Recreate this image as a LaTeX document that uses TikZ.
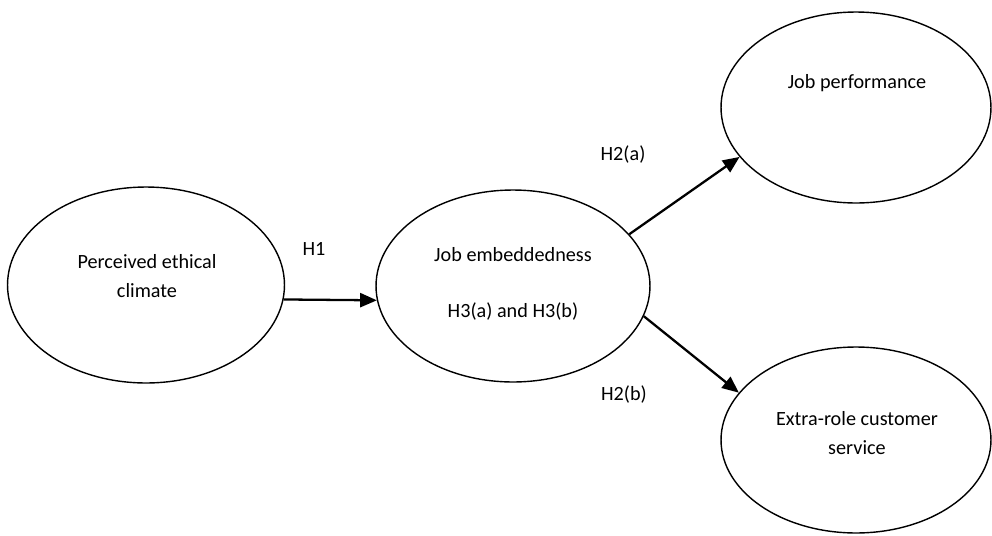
\documentclass[tikz,border=0pt]{standalone}
\usepackage{fontspec}
\setmainfont{Carlito}
\usepackage{tikz}
\usetikzlibrary{arrows.meta,shapes,positioning}
\tikzset{
	construct/.style={shape=ellipse,draw,line width=0.8pt,inner sep=0pt},
	txt/.style={font=\fontsize{11.5}{16.5}\selectfont,align=center,inner sep=0pt},
	link/.style={->,line width=1.3pt,>={Triangle[length=9.5pt,width=8pt]}}
}

\begin{document}
\begin{tikzpicture}[x=0.02cm,y=-0.02cm]
		\useasboundingbox (0,0) rectangle (992,535);
		\begin{scope}
			\node(clim) [construct,minimum width=5.54cm,minimum height=3.92cm] at (146,285) {};
			\node(emb) [construct,minimum width=5.48cm,minimum height=3.84cm] at (513,286) {};
			\node(perf) [construct,minimum width=5.40cm,minimum height=3.82cm] at (856,107.5) {};
			\node(serv) [construct,minimum width=5.40cm,minimum height=3.72cm] at (856,440) {};
			\node(climt) [txt] at (147,276.5) {Perceived ethical\\climate};
			\node(embt) [txt] at (513,255) {Job embeddedness};
			\node(hyp3) [txt] at (513,312) {H3(a) and H3(b)};
			\node(perft) [txt] at (857,83) {Job performance};
			\node(servt) [txt] at (857,433.5) {Extra-role customer\\service};
			\draw[link] (clim.-6) -- (emb.186);
			\draw[link] (emb.24) -- (perf.203);
			\draw[link] (emb.-13) -- (serv.158);
			\node(h1) [txt] at (314,249) {H1};
			\node(h2a) [txt] at (623,155) {H2(a)};
			\node(h2b) [txt] at (624,395) {H2(b)};
		\end{scope}
	\end{tikzpicture}
\end{document}
